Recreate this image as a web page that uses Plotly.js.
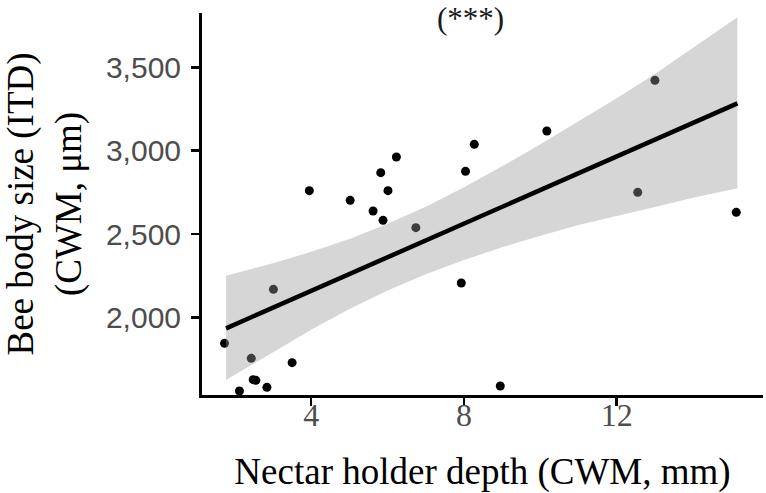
<!DOCTYPE html>
<html>
<head>
<meta charset="utf-8">
<script src="https://cdn.plot.ly/plotly-3.0.1.min.js"></script>
<style>html,body{margin:0;padding:0;background:#fff;}#chart{width:766px;height:493px;}</style>
</head>
<body>
<div id="chart"></div>
<script>
// Observed sites (CWM values)
const nectarDepth = [1.73, 2.12, 2.43, 2.48, 2.55, 2.84, 3.01, 3.50, 3.95, 5.02, 5.62, 5.82, 5.88, 6.01, 6.23, 6.74, 7.93, 8.04, 8.27, 8.95, 10.17, 12.55, 13.00, 15.13];
const beeSize     = [1844, 1558, 1754, 1626, 1622, 1580, 2168, 1728, 2760, 2702, 2638, 2868, 2582, 2760, 2962, 2538, 2206, 2876, 3038, 1588, 3118, 2750, 3422, 2630];

// Fitted regression line (ends)
const fitX = [1.77, 15.16];
const fitY = [1934, 3284];

// Confidence band
const bandX     = [1.77, 3, 4, 5, 6, 7, 8, 9, 10, 11, 12, 13, 14, 15.16];
const bandUpper = [2250, 2324, 2393, 2470, 2561, 2663, 2780, 2906, 3039, 3176, 3314, 3460, 3615, 3800];
const bandLower = [1624, 1792, 1925, 2050, 2161, 2259, 2344, 2420, 2489, 2554, 2610, 2662, 2718, 2775];

const annotationText = "(***)";
const xTitle = "Nectar holder depth (CWM, mm)";
const yTitle = "Bee body size (ITD)<br>(CWM, μm)";

const polyX = bandX.concat(bandX.slice().reverse());
const polyY = bandUpper.concat(bandLower.slice().reverse());

const traces = [
  {x: nectarDepth, y: beeSize, type: 'scatter', mode: 'markers',
   marker: {color: '#000000', size: 9}, hoverinfo: 'skip', showlegend: false},
  {x: polyX, y: polyY, type: 'scatter', mode: 'lines', fill: 'toself',
   fillcolor: 'rgba(153,153,153,0.4)', line: {width: 0}, hoverinfo: 'skip', showlegend: false},
  {x: fitX, y: fitY, type: 'scatter', mode: 'lines',
   line: {color: '#000000', width: 4.5}, hoverinfo: 'skip', showlegend: false}
];

const layout = {
  width: 766, height: 493,
  margin: {l: 202, r: 3, t: 13, b: 98, pad: 0},
  paper_bgcolor: '#ffffff', plot_bgcolor: '#ffffff',
  showlegend: false,
  xaxis: {
    range: [1.14, 15.83], tick0: 0, dtick: 4,
    showgrid: false, zeroline: false,
    showline: true, linecolor: '#000000', linewidth: 3,
    ticks: 'outside', ticklen: 8, tickwidth: 2.5, tickcolor: '#000000',
    ticklabelstandoff: -18,
    tickfont: {family: 'Liberation Serif, Times New Roman, serif', size: 32, color: '#4d4d4d'},
    title: {text: xTitle, standoff: 30,
            font: {family: 'Liberation Serif, Times New Roman, serif', size: 37, color: '#000000'}}
  },
  yaxis: {
    range: [1534, 3826], tick0: 0, dtick: 500, tickformat: ',',
    showgrid: false, zeroline: false,
    showline: true, linecolor: '#000000', linewidth: 3,
    ticks: 'outside', ticklen: 8, tickwidth: 2.5, tickcolor: '#000000',
    ticklabelstandoff: 4,
    tickfont: {family: 'Liberation Sans, Arial, sans-serif', size: 30, color: '#4d4d4d'},
    title: {text: yTitle, standoff: 16,
            font: {family: 'Liberation Serif, Times New Roman, serif', size: 37, color: '#000000'}}
  },
  annotations: [{
    text: annotationText, xref: 'paper', yref: 'paper', x: 0.4795, y: 1.034,
    xanchor: 'center', yanchor: 'top', showarrow: false, borderpad: 0,
    font: {family: 'Liberation Serif, Times New Roman, serif', size: 31, color: '#1a1a1a'}
  }]
};

Plotly.newPlot('chart', traces, layout, {displayModeBar: false, staticPlot: true});
</script>
</body>
</html>
